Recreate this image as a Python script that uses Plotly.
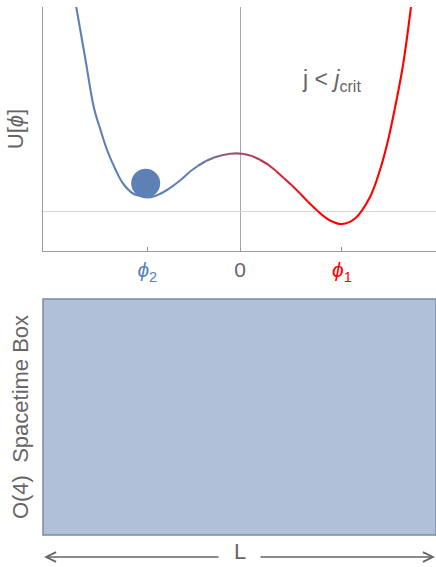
import plotly.graph_objects as go

# ---- data ----
# left (blue) branch of the potential
phi_left = [-1.592, -1.505, -1.417, -1.359, -1.291, -1.214, -1.136, -1.039,
            -0.971, -0.903, -0.825, -0.709, -0.583, -0.485]
U_left = [4.10, 3.08, 2.05, 1.65, 1.22, 0.85, 0.55, 0.35,
          0.30, 0.27, 0.30, 0.42, 0.61, 0.79]
# central hump (colour blends from blue to red)
phi_mid = [-0.485, -0.408, -0.330, -0.252, -0.175, -0.097, -0.029, 0.039,
           0.117, 0.194, 0.272, 0.350, 0.427, 0.505, 0.583, 0.660, 0.748]
U_mid = [0.79, 0.905, 1.00, 1.07, 1.115, 1.145, 1.152, 1.14,
         1.10, 1.025, 0.93, 0.80, 0.655, 0.51, 0.35, 0.185, 0.01]
# right (red) branch
phi_right = [0.748, 0.874, 0.990, 1.117, 1.262, 1.359, 1.437, 1.515, 1.583, 1.660]
U_right = [0.01, -0.19, -0.26, -0.15, 0.28, 0.82, 1.41, 2.17, 2.92, 4.08]

ball_phi = [-0.916]
ball_u = [0.554]
tick_vals = [-0.90, 0.0, 0.99]
tick_labels = ["<span style='color:rgb(94,129,181)'><i>ϕ</i><sub>2</sub></span>",
               "0",
               "<span style='color:rgb(255,0,0)'><i>ϕ</i><sub>1</sub></span>"]
regime_label = "j < <i>j</i><sub>crit</sub>"
box_label = "O(4)  Spacetime Box"
length_label = "L"

W, H = 436, 567
FONT = "Liberation Sans, Arial, sans-serif"
GRAY = "#666666"
BLUE = (94, 129, 181)
RED = (255, 0, 0)

fig = go.Figure()


def blend(t):
    t = max(0.0, min(1.0, t))
    c = [round(BLUE[k] + (RED[k] - BLUE[k]) * t) for k in range(3)]
    return f"rgb({c[0]},{c[1]},{c[2]})"


LW = 2.1
# blue branch
fig.add_trace(go.Scatter(x=phi_left, y=U_left, mode="lines",
                         line=dict(color=blend(0), width=LW, shape="spline"),
                         hoverinfo="skip", showlegend=False, xaxis="x", yaxis="y"))
# blended hump, one short segment at a time
x_a, x_b = phi_mid[0], phi_mid[-1]
for i in range(len(phi_mid) - 1):
    t = ((phi_mid[i] + phi_mid[i + 1]) / 2 - x_a) / (x_b - x_a)
    fig.add_trace(go.Scatter(x=phi_mid[i:i + 2], y=U_mid[i:i + 2], mode="lines",
                             line=dict(color=blend(t), width=LW),
                             hoverinfo="skip", showlegend=False, xaxis="x", yaxis="y"))
# red branch
fig.add_trace(go.Scatter(x=phi_right, y=U_right, mode="lines",
                         line=dict(color=blend(1), width=LW, shape="spline"),
                         hoverinfo="skip", showlegend=False, xaxis="x", yaxis="y"))
# ball
fig.add_trace(go.Scatter(x=ball_phi, y=ball_u, mode="markers",
                         marker=dict(size=29, color=blend(0), line=dict(width=0)),
                         hoverinfo="skip", showlegend=False, xaxis="x", yaxis="y",
                         cliponaxis=False))

top_dom = [1 - 251 / H, 1 - 7 / H]
bot_dom = [1 - 535 / H, 1 - 299 / H]
x_dom = [43 / W, 1.0]

fig.update_layout(
    width=W, height=H,
    margin=dict(l=0, r=0, t=0, b=0),
    paper_bgcolor="white", plot_bgcolor="white",
    font=dict(family=FONT, color=GRAY),
    xaxis=dict(domain=x_dom, range=[-1.913, 1.903], anchor="y",
               showline=True, linecolor="#9a9a9a", linewidth=1,
               ticks="inside", ticklen=4, tickcolor="#9a9a9a",
               tickvals=tick_vals, ticktext=tick_labels,
               tickfont=dict(size=21, color=GRAY, family=FONT),
               showgrid=False, zeroline=True, zerolinecolor="#a8a8a8",
               zerolinewidth=1),
    yaxis=dict(domain=top_dom, range=[-0.8, 4.08], anchor="x",
               showline=True, linecolor="#9a9a9a", linewidth=1,
               showticklabels=False, ticks="", showgrid=False,
               zeroline=True, zerolinecolor="#d4d4d4", zerolinewidth=1,
               title=dict(text="U[<i>ϕ</i>]", font=dict(size=22, color=GRAY),
                          standoff=12)),
    xaxis2=dict(domain=x_dom, range=[0, 1], anchor="y2", visible=False),
    yaxis2=dict(domain=bot_dom, range=[0, 1], anchor="x2",
                showline=False, showticklabels=False, ticks="",
                showgrid=False, zeroline=False,
                title=dict(text=box_label, font=dict(size=22, color=GRAY),
                           standoff=7)),
    shapes=[dict(type="rect", xref="x2 domain", yref="y2 domain",
                 x0=0, x1=1, y0=0, y1=1,
                 fillcolor="rgb(176,192,217)",
                 line=dict(color="rgb(122,138,165)", width=1.5), layer="below")],
)

# invisible trace so the lower axes exist
fig.add_trace(go.Scatter(x=[0.5], y=[0.5], mode="markers", marker=dict(opacity=0),
                         hoverinfo="skip", showlegend=False, xaxis="x2", yaxis="y2"))

ya = 1 - 557 / H
fig.add_annotation(x=0.885, y=2.62, xref="x", yref="y", text=regime_label,
                   showarrow=False, font=dict(size=23, color=GRAY),
                   xanchor="center", yanchor="middle")
fig.add_annotation(x=240 / W, y=0.0, xref="paper", yref="paper", text=length_label,
                   showarrow=False, font=dict(size=22, color=GRAY),
                   xanchor="center", yanchor="bottom", yshift=1)
# arrows
fig.add_annotation(x=44 / W, y=ya, xref="paper", yref="paper", text="",
                   showarrow=True, ax=176, ay=0, axref="pixel", ayref="pixel",
                   arrowhead=5, arrowsize=1.3, arrowwidth=1.5, arrowcolor=GRAY,
                   standoff=0, startstandoff=0)
fig.add_annotation(x=435 / W, y=ya, xref="paper", yref="paper", text="",
                   showarrow=True, ax=-176, ay=0, axref="pixel", ayref="pixel",
                   arrowhead=5, arrowsize=1.3, arrowwidth=1.5, arrowcolor=GRAY,
                   standoff=0, startstandoff=0)

fig.write_html("out.html")
